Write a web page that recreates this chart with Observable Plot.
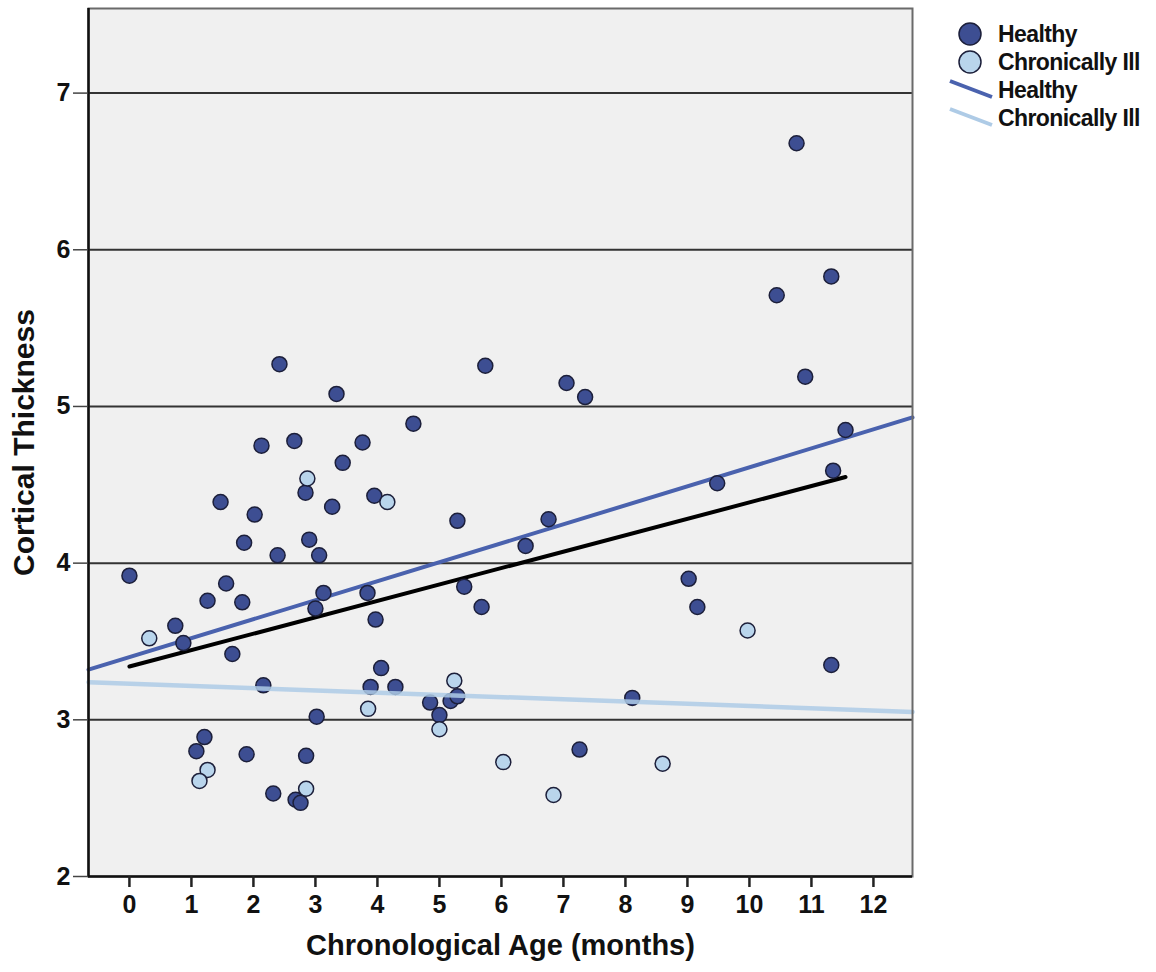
<!DOCTYPE html>
<html>
<head>
<meta charset="utf-8">
<script src="https://cdn.jsdelivr.net/npm/d3@7"></script>
<script src="https://cdn.jsdelivr.net/npm/@observablehq/plot@0.6"></script>
<style>
  html, body { margin: 0; padding: 0; background: #fff; }
  #chart { width: 1156px; height: 972px; }
</style>
</head>
<body>
<div id="chart"></div>
<script>
// ---- data ----
const healthyAge = [0.0, 0.74, 0.87, 1.26, 1.56, 1.82, 1.66, 1.47, 2.02, 1.85, 2.13, 2.42, 2.39, 2.66,
  2.16, 1.21, 1.08, 1.89, 2.32, 2.68, 2.76, 2.85, 3.02, 2.84, 2.90, 3.06, 3.00, 3.13, 3.27, 3.34,
  3.44, 3.76, 3.84, 3.95, 3.97, 4.06, 3.89, 4.29, 4.58, 5.29, 5.40, 5.68, 4.85, 5.18, 5.29, 5.00,
  5.74, 6.39, 6.76, 7.05, 7.35, 7.26, 8.11, 9.02, 9.16, 9.48, 10.44, 10.76, 10.90, 11.32, 11.55,
  11.35, 11.32];
const healthyThickness = [3.92, 3.60, 3.49, 3.76, 3.87, 3.75, 3.42, 4.39, 4.31, 4.13, 4.75, 5.27, 4.05, 4.78,
  3.22, 2.89, 2.80, 2.78, 2.53, 2.49, 2.47, 2.77, 3.02, 4.45, 4.15, 4.05, 3.71, 3.81, 4.36, 5.08,
  4.64, 4.77, 3.81, 4.43, 3.64, 3.33, 3.21, 3.21, 4.89, 4.27, 3.85, 3.72, 3.11, 3.12, 3.15, 3.03,
  5.26, 4.11, 4.28, 5.15, 5.06, 2.81, 3.14, 3.90, 3.72, 4.51, 5.71, 6.68, 5.19, 5.83, 4.85,
  4.59, 3.35];
const illAge = [0.32, 1.26, 1.13, 2.85, 2.87, 4.16, 3.85, 5.24, 5.00, 6.03, 6.84, 8.60, 9.97];
const illThickness = [3.52, 2.68, 2.61, 2.56, 4.54, 4.39, 3.07, 3.25, 2.94, 2.73, 2.52, 2.72, 3.57];

// fit lines (end points)
const groupFitAge = [-0.66, 12.63];
const healthyFit = [3.32, 4.93];
const illFit = [3.24, 3.05];
const totalFitAge = [0.0, 11.55];
const totalFit = [3.34, 4.55];

const xTicks = [0, 1, 2, 3, 4, 5, 6, 7, 8, 9, 10, 11, 12];
const yTicks = [2, 3, 4, 5, 6, 7];
const xDomain = [-0.66, 12.63];
const yDomain = [2, 7.54];
const groups = ["Healthy", "Chronically Ill"];
const xLabel = "Chronological Age (months)";
const yLabel = "Cortical Thickness";

// ---- tables built from the arrays ----
const healthy = healthyAge.map((a, i) => ({age: a, thick: healthyThickness[i]}));
const ill = illAge.map((a, i) => ({age: a, thick: illThickness[i]}));
const hLine = groupFitAge.map((a, i) => ({age: a, thick: healthyFit[i]}));
const iLine = groupFitAge.map((a, i) => ({age: a, thick: illFit[i]}));
const tLine = totalFitAge.map((a, i) => ({age: a, thick: totalFit[i]}));

const darkFill = "#3d4e92";
const lightFill = "#b9d5ec";
const dotStroke = "#1c1f3a";
const darkLine = "#4a62ae";
const lightLine = "#aecbe6";
const font = "'Liberation Sans', Arial, sans-serif";

const chart = Plot.plot({
  width: 1156,
  height: 972,
  marginLeft: 88,
  marginRight: 244,
  marginTop: 8,
  marginBottom: 96,
  style: {fontFamily: font, fontWeight: "bold", fontSize: "22px", background: "#fff", color: "#111", overflow: "visible"},
  x: {domain: xDomain, label: null},
  y: {domain: yDomain, label: null},
  marks: [
    Plot.frame({fill: "#f0f0f0", stroke: null}),
    Plot.ruleY(yTicks.slice(1), {stroke: "#333", strokeWidth: 2}),
    Plot.line(tLine, {x: "age", y: "thick", stroke: "#000", strokeWidth: 4}),
    Plot.line(hLine, {x: "age", y: "thick", stroke: darkLine, strokeWidth: 4}),
    Plot.dot(healthy, {x: "age", y: "thick", r: 7.5, fill: darkFill, stroke: dotStroke, strokeWidth: 1.5}),
    Plot.dot(ill, {x: "age", y: "thick", r: 7.5, fill: lightFill, stroke: dotStroke, strokeWidth: 1.5}),
    Plot.line(iLine, {x: "age", y: "thick", stroke: lightLine, strokeWidth: 4.5, strokeOpacity: 0.85}),
    Plot.frame({stroke: "#6a6a6a", strokeWidth: 2}),
    Plot.ruleX([xDomain[0]], {stroke: "#111", strokeWidth: 2.5}),
    Plot.ruleY([yDomain[0]], {stroke: "#111", strokeWidth: 2.5}),
    Plot.axisX({ticks: xTicks, tickFormat: d => String(d), tickSize: 11, tickPadding: 8, strokeWidth: 2.5, stroke: "#222", fontSize: 25, fontWeight: "bold", fill: "#111", label: null}),
    Plot.axisY({ticks: yTicks, tickFormat: d => String(d), tickSize: 15, tickPadding: 3, strokeWidth: 1.5, stroke: "#444", fontSize: 25, fontWeight: "bold", fill: "#111", label: null}),
    Plot.text([xLabel], {frameAnchor: "bottom", dy: 69, lineAnchor: "middle", textAnchor: "middle", fontSize: 29, fontWeight: "bold", fill: "#111"}),
    Plot.text([yLabel], {frameAnchor: "left", dx: -64, rotate: -90, lineAnchor: "middle", textAnchor: "middle", fontSize: 30, fontWeight: "bold", fill: "#111"})
  ]
});

document.getElementById("chart").appendChild(chart);

// ---- legend (drawn into the same svg) ----
const svg = d3.select(chart);
const lg = svg.append("g").attr("font-family", font).attr("font-weight", "bold").attr("font-size", 23)
  .attr("fill", "#111").attr("text-anchor", "start");
const rows = [
  {kind: "dot", fill: darkFill, text: groups[0]},
  {kind: "dot", fill: lightFill, text: groups[1]},
  {kind: "line", color: darkLine, text: groups[0]},
  {kind: "line", color: lightLine, text: groups[1]}
];
rows.forEach((r, i) => {
  const cy = 34 + i * 28;
  if (r.kind === "dot") {
    lg.append("circle").attr("cx", 970).attr("cy", cy).attr("r", 11)
      .attr("fill", r.fill).attr("stroke", dotStroke).attr("stroke-width", 1.5);
  } else {
    lg.append("line").attr("x1", 950).attr("y1", cy - 9).attr("x2", 992).attr("y2", cy + 7)
      .attr("stroke", r.color).attr("stroke-width", 4);
  }
  lg.append("text").attr("x", 998).attr("y", cy).attr("dy", "0.36em").attr("letter-spacing", "-0.6px").text(r.text);
});
</script>
</body>
</html>
